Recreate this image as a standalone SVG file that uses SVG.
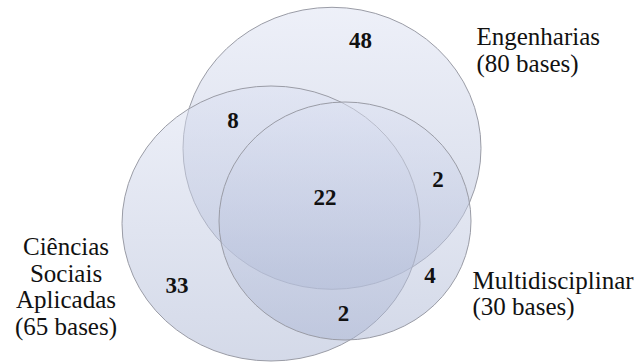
<svg xmlns="http://www.w3.org/2000/svg" width="640" height="362" viewBox="0 0 640 362">
  <defs>
    <linearGradient id="g" x1="0" y1="0" x2="0" y2="1">
      <stop offset="0" stop-color="#dce1f2"/>
      <stop offset="1" stop-color="#a9b4d2"/>
    </linearGradient>
    <style>
      .set { fill: url(#g); fill-opacity: 0.5; stroke: #9a9ca6; stroke-width: 1; }
      .lbl { font-size: 25px; fill: #111; }
      .num { font-size: 23px; font-weight: bold; fill: #111; text-anchor: middle; }
    </style>
  </defs>
  <rect width="640" height="362" fill="#ffffff"/>
  <g font-family="Liberation Serif, Times New Roman, Tinos, serif">
  <g id="engenharias">
    <ellipse class="set" cx="332" cy="148.3" rx="149" ry="141"/>
    <text class="lbl" x="476.5" y="44.5">Engenharias</text>
    <text class="lbl" x="476.5" y="71.5">(80 bases)</text>
  </g>
  <g id="ciencias-sociais-aplicadas">
    <ellipse class="set" cx="271" cy="223.5" rx="149" ry="137.5"/>
    <text class="lbl" x="66" y="255" text-anchor="middle">Ciências</text>
    <text class="lbl" x="66" y="281.5" text-anchor="middle">Sociais</text>
    <text class="lbl" x="66" y="308" text-anchor="middle">Aplicadas</text>
    <text class="lbl" x="66" y="335" text-anchor="middle">(65 bases)</text>
  </g>
  <g id="multidisciplinar">
    <ellipse class="set" cx="345" cy="221" rx="126" ry="119"/>
    <text class="lbl" x="472.5" y="288.5">Multidisciplinar</text>
    <text class="lbl" x="472.5" y="315">(30 bases)</text>
  </g>
  <g id="region-counts">
    <text class="num" x="360.5" y="48">48</text>
    <text class="num" x="233" y="128">8</text>
    <text class="num" x="325" y="205">22</text>
    <text class="num" x="438" y="187">2</text>
    <text class="num" x="177" y="293">33</text>
    <text class="num" x="430" y="283">4</text>
    <text class="num" x="343.5" y="321">2</text>
  </g>
  </g>
</svg>
